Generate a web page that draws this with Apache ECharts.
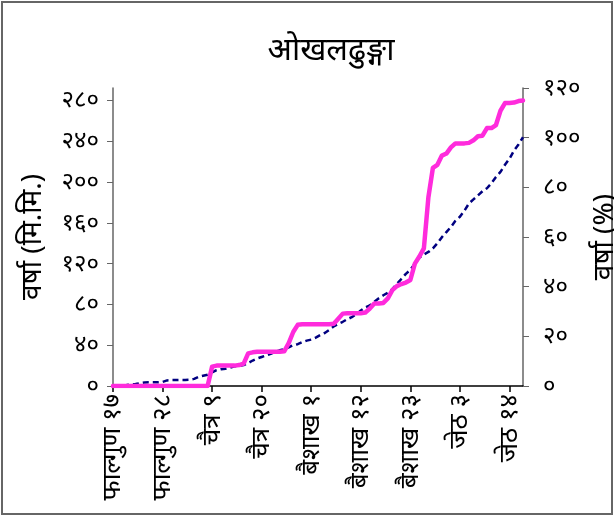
<!DOCTYPE html>
<html>
<head>
<meta charset="utf-8">
<script src="https://cdn.jsdelivr.net/npm/echarts@6/dist/echarts.min.js"></script>
<style>
html,body{margin:0;padding:0;background:#fff;}
#c{width:614px;height:516px;}
</style>
</head>
<body>
<div id="c"></div>
<script>
// Months (name, first day, last day) covered by the chart
var months = [['फाल्गुण', 17, 30], ['चैत्र', 1, 30], ['बैशाख', 1, 31], ['जेठ', 1, 17]];
var digits = ['०','१','२','३','४','५','६','७','८','९'];
function dev(n) { return String(n).replace(/[0-9]/g, function (d) { return digits[+d]; }); }
var categories = [];
months.forEach(function (m) { for (var d = m[1]; d <= m[2]; d++) categories.push(m[0] + ' ' + dev(d)); });

// Cumulative actual rainfall (mm)
var actual = [0,0,0,0,0,0,0,0,0,0,0,0,0,0,0,0,0,0,0,0,0,0,
  19,20,20,20,20,20,20.5,22,32,33,33.5,33.5,33.5,33.5,33.5,33.5,34,42,53,60,60.5,60.6,60.6,60.6,60.6,60.6,60.6,61,
  66,71,71.4,71.4,71.4,71.4,72,76,81,81,81.5,86,94,98,100,101.5,104,120,127,135,185,214,217,226,228,234,238,238,238,238.5,
  241,245,245.5,253,253,256,270,277.5,277.7,278,279.5,280];
// Cumulative normal rainfall (mm)
var normal = [0,0.3,0.6,1,1.5,2,2.8,3.5,3.6,3.6,3.7,4,5.5,5.8,5.9,6,6,6.2,7,9,10,11,13.5,15.5,16.5,17,18,19.3,19.6,20.5,
  22.5,25,27,28.5,30,31.5,33.5,35,36,38,40,41,43,44.5,45.5,47.5,50,52,55,58.5,61,63,65.5,67.5,70.5,74,77,79,82.5,86,
  89,91.5,95,100,105,110,114,120,126,129,131.5,135,140,146,151,156,162,166,172,179,183,187,191,194,199,205,210,217,223,231,237,244];
var leftTicks = [0, 40, 80, 120, 160, 200, 240, 280];
var normalTotal = 243.6;

var F = "'Noto Sans', 'Noto Sans Devanagari', sans-serif";
var chart = echarts.init(document.getElementById('c'));
chart.setOption({
  animation: false,
  backgroundColor: '#fff',
  title: {
    text: 'ओखलढुङ्गा', left: 326, top: 30, textAlign: 'center',
    textStyle: { fontFamily: F, fontSize: 32, fontWeight: 'normal', color: '#000' }
  },
  graphic: [{ type: 'rect', shape: { x: 2, y: 2, width: 610, height: 512 }, style: { fill: 'none', stroke: '#666', lineWidth: 2 } }],
  grid: { left: 113, right: 91, top: 88, bottom: 130, outerBoundsMode: 'none', containLabel: false },
  xAxis: {
    type: 'category', data: categories, boundaryGap: false,
    axisLine: { lineStyle: { color: '#000', width: 1.5 } },
    axisTick: { interval: 10, length: 6, lineStyle: { color: '#000', width: 1.5 } },
    axisLabel: { interval: 10, rotate: 90, margin: 8, fontFamily: F, fontSize: 26, color: '#000' }
  },
  yAxis: [{
    type: 'value', min: 0, max: normalTotal * 1.2,
    name: 'वर्षा (मि.मि.)', nameLocation: 'middle', nameGap: 66, nameRotate: 90,
    nameTextStyle: { fontFamily: F, fontSize: 28, color: '#000' },
    splitLine: { show: false },
    axisLine: { show: true, lineStyle: { color: '#666', width: 1.5 } },
    axisTick: { show: true, length: 6, customValues: leftTicks, lineStyle: { color: '#666' } },
    axisLabel: { customValues: leftTicks, margin: 14, fontFamily: F, fontSize: 24, color: '#000', formatter: function (v) { return dev(v); } }
  }, {
    type: 'value', min: 0, max: 120, interval: 20, position: 'right',
    name: 'वर्षा (%)', nameLocation: 'middle', nameGap: 66, nameRotate: 90,
    nameTextStyle: { fontFamily: F, fontSize: 28, color: '#000' },
    splitLine: { show: false },
    axisLine: { show: true, lineStyle: { color: '#666', width: 1.5 } },
    axisTick: { show: true, length: 6, lineStyle: { color: '#666' } },
    axisLabel: { margin: 20, fontFamily: F, fontSize: 24, color: '#000', formatter: function (v) { return dev(v); } }
  }],
  series: [{
    type: 'line', data: normal, yAxisIndex: 0, showSymbol: false, smooth: false,
    lineStyle: { color: '#000080', width: 2.5, type: [6, 4] }, z: 2
  }, {
    type: 'line', data: actual, yAxisIndex: 0, showSymbol: false, smooth: false,
    lineStyle: { color: '#ff2bdc', width: 4.5, cap: 'round', join: 'round' }, z: 3
  }]
});
</script>
</body>
</html>
